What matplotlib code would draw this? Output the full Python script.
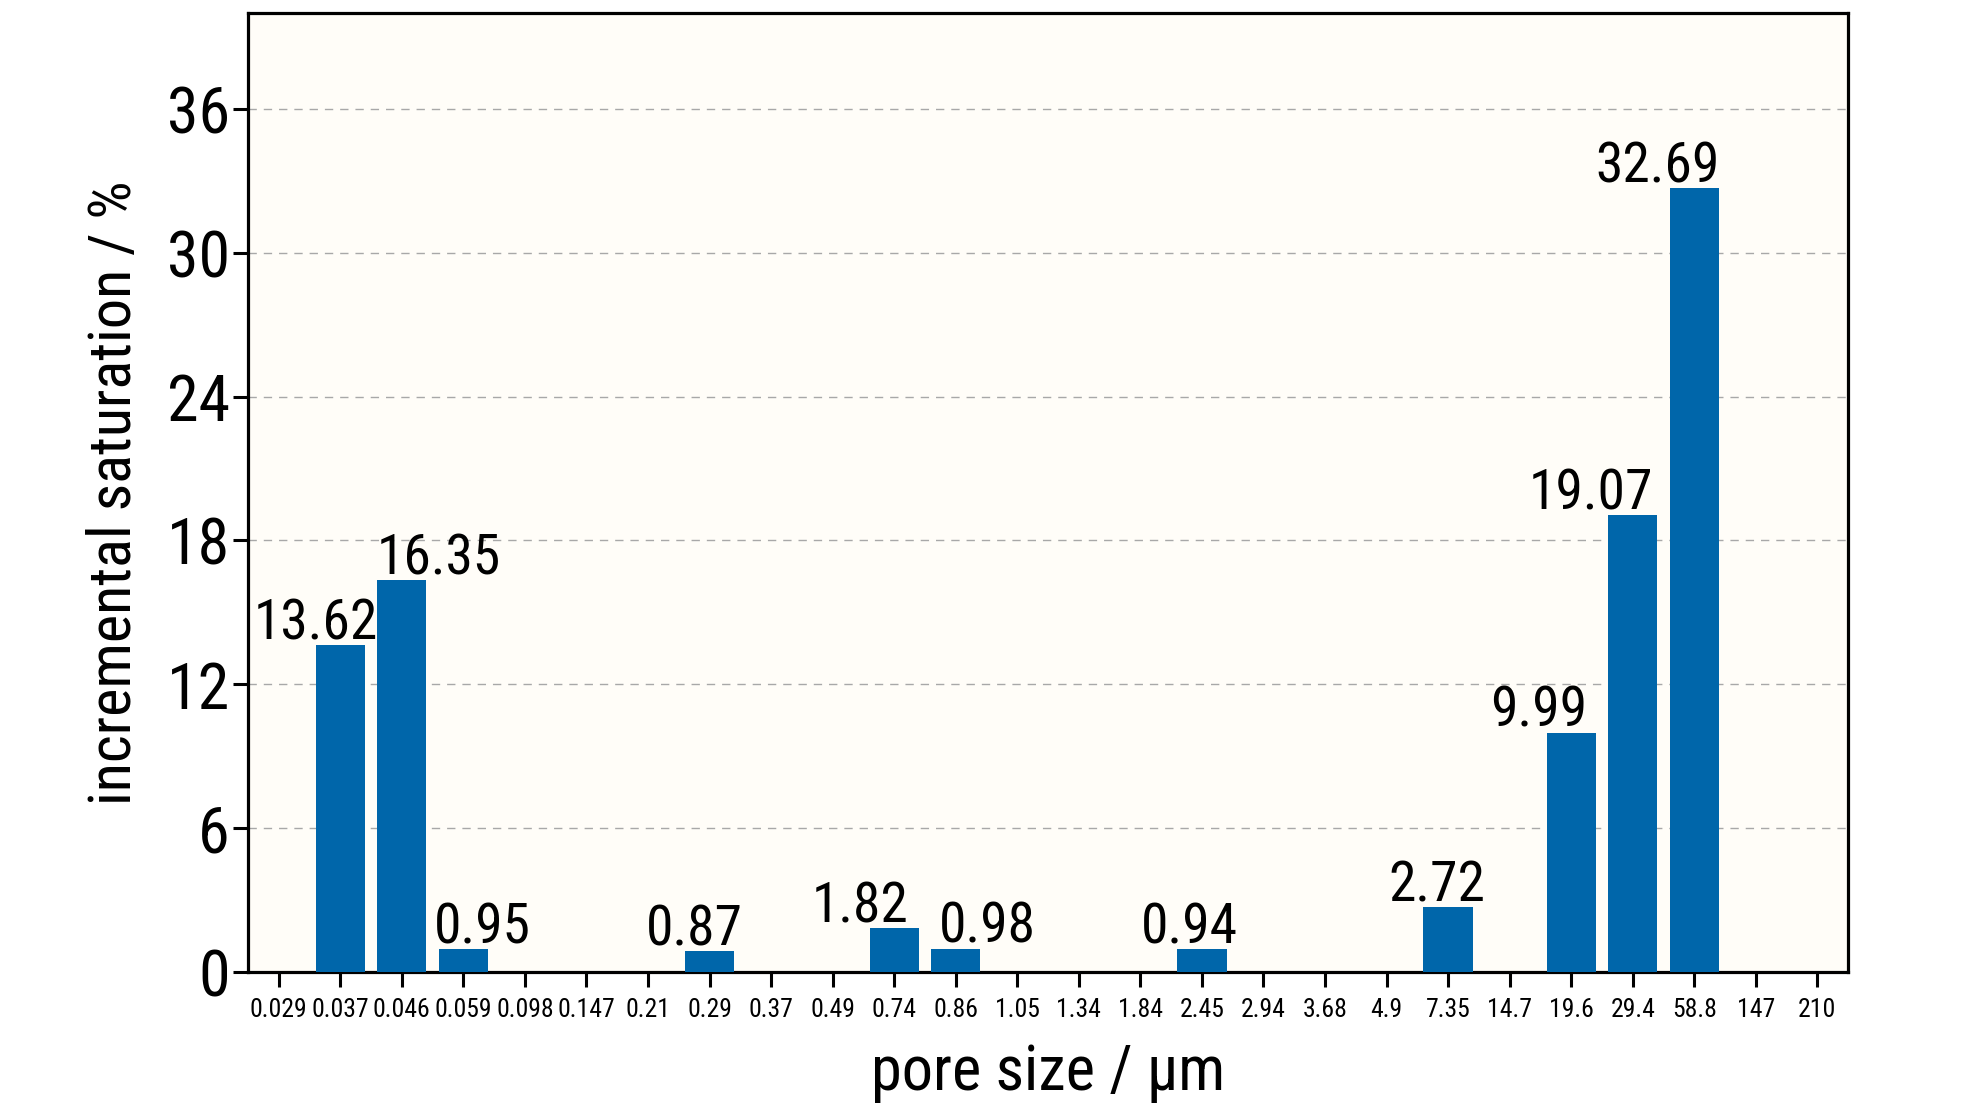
import matplotlib
matplotlib.use("Agg")
import matplotlib.pyplot as plt
import numpy as np

# ---- data ----
pore_sizes = ["0.029", "0.037", "0.046", "0.059", "0.098", "0.147", "0.21", "0.29",
              "0.37", "0.49", "0.74", "0.86", "1.05", "1.34", "1.84", "2.45", "2.94",
              "3.68", "4.9", "7.35", "14.7", "19.6", "29.4", "58.8", "147", "210"]
saturation = [0, 13.62, 16.35, 0.95, 0, 0, 0, 0.87,
              0, 0, 1.82, 0.98, 0, 0, 0, 0.94, 0,
              0, 0, 2.72, 0, 9.99, 19.07, 32.69, 0, 0]
y_ticks = [0, 6, 12, 18, 24, 30, 36]

# label horizontal nudges (in bar-slot units), for non-zero bars in order
label_nudge = [-0.40, 0.60, 0.31, -0.25, -0.55, 0.51, -0.20, -0.18, -0.53, -0.68, -0.60]

plt.rcParams['font.family'] = ['Roboto Condensed', 'DejaVu Sans']

fig = plt.figure(figsize=(19.84, 11.10), dpi=100)
fig.patch.set_facecolor('white')
ax = fig.add_axes([0.125, 0.1243, 0.8065, 0.864])
ax.set_facecolor('#FFFDF8')

x = np.arange(len(pore_sizes))
ax.bar(x, saturation, width=0.8, color='#0066AA', zorder=3)

ax.set_xlim(-0.5, len(pore_sizes) - 0.5)
ax.set_ylim(0, 40)
ax.set_yticks(y_ticks)
ax.set_xticks(x)
ax.set_xticklabels(pore_sizes)

ax.yaxis.grid(True, color='#A8A8A8', linestyle=(0, (6, 5)), linewidth=1.0, zorder=0)
ax.set_axisbelow(True)

for sp in ax.spines.values():
    sp.set_linewidth(2.3)
    sp.set_color('black')

ax.tick_params(axis='y', direction='out', length=11, width=2.2, labelsize=46, pad=2)
ax.tick_params(axis='x', direction='out', length=11, width=2.2, labelsize=18.5, pad=8)

ax.set_ylabel('incremental saturation / %', fontsize=43.5, labelpad=17)
ax.set_xlabel('pore size / \u03bcm', fontsize=45, labelpad=15)

k = 0
for xi, v in zip(x, saturation):
    if v > 0:
        ax.annotate(f"{v:.2f}", xy=(xi + label_nudge[k], v), xytext=(0, 4),
                    textcoords='offset points', ha='center', va='baseline',
                    fontsize=40, zorder=4)
        k += 1

fig.savefig('out.png', dpi=100)
